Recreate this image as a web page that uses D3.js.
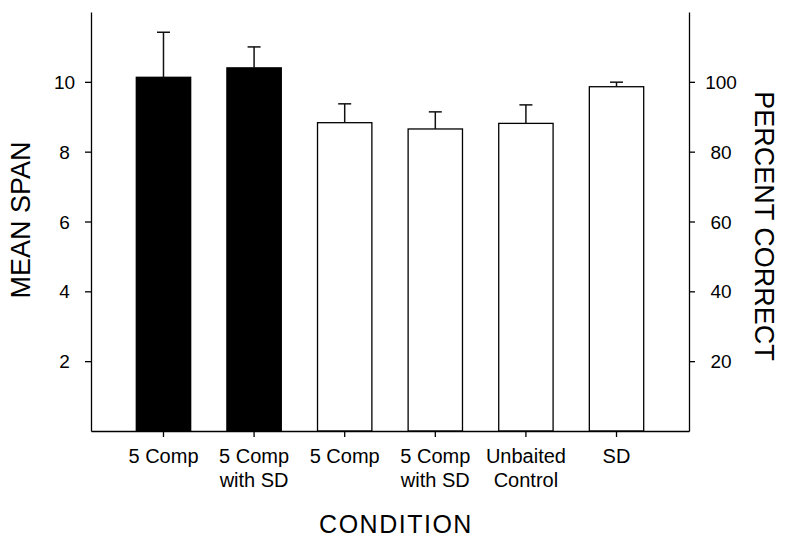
<!DOCTYPE html>
<html>
<head>
<meta charset="utf-8">
<script src="https://cdn.jsdelivr.net/npm/d3@7"></script>
<style>
  html, body { margin: 0; padding: 0; background: #fff; }
  svg { display: block; }
  text { font-family: "Liberation Sans", Arial, sans-serif; fill: #000; }
</style>
</head>
<body>
<svg id="chart" width="785" height="544"></svg>
<script>
// Data
const categories = ["5 Comp", "5 Comp\nwith SD", "5 Comp", "5 Comp\nwith SD", "Unbaited\nControl", "SD"];
const meanSpan   = [10.13, 10.40, 8.83, 8.65, 8.81, 9.86];
const errorTop   = [11.42, 11.00, 9.37, 9.14, 9.34, 9.99];
const filled     = [true, true, false, false, false, false];
const leftTicks  = [2, 4, 6, 8, 10];
const rightTicks = [20, 40, 60, 80, 100];

const svg = d3.select("#chart");
const L = 91, R = 689, T = 12, B = 431;

const x = d3.scaleBand().domain(d3.range(categories.length)).range([L, R])
  .paddingInner(0.4).paddingOuter(0.5);
const y = d3.scaleLinear().domain([0, 12]).range([B, T]);
const y2 = d3.scaleLinear().domain([0, 120]).range([B, T]);

// Bars
svg.append("g").selectAll("rect").data(meanSpan).join("rect")
  .attr("x", (d, i) => x(i))
  .attr("y", d => y(d))
  .attr("width", x.bandwidth())
  .attr("height", d => y(0) - y(d))
  .attr("fill", (d, i) => filled[i] ? "#000" : "#fff")
  .attr("stroke", "#000")
  .attr("stroke-width", 1.3);

// Error bars
const eg = svg.append("g").attr("stroke", "#111").attr("stroke-width", 1.5);
meanSpan.forEach((d, i) => {
  const cx = x(i) + x.bandwidth() / 2;
  eg.append("line").attr("x1", cx).attr("x2", cx).attr("y1", y(d)).attr("y2", y(errorTop[i]));
  eg.append("line").attr("x1", cx - 6.5).attr("x2", cx + 6.5).attr("y1", y(errorTop[i])).attr("y2", y(errorTop[i]));
});

// Left axis
const gl = svg.append("g").attr("transform", `translate(${L},0)`)
  .call(d3.axisLeft(y).tickValues(leftTicks).tickSize(6).tickSizeOuter(0).tickPadding(0));
gl.selectAll("text").remove();
gl.selectAll(".tick").append("text")
  .attr("x", -26.5).attr("dy", "0.35em").attr("text-anchor", "middle")
  .style("font-size", "19px").text(d => d);

// Right axis
const gr = svg.append("g").attr("transform", `translate(${R},0)`)
  .call(d3.axisRight(y2).tickValues(rightTicks).tickSize(6).tickSizeOuter(0));
gr.selectAll("text").remove();
gr.selectAll(".tick").append("text")
  .attr("x", 32).attr("dy", "0.35em").attr("text-anchor", "middle")
  .style("font-size", "19px").text(d => d);

// Bottom axis
const gb = svg.append("g").attr("transform", `translate(0,${B})`)
  .call(d3.axisBottom(x).tickSize(6).tickSizeOuter(0));
gb.selectAll("text").remove();
gb.selectAll(".tick").each(function(d, i) {
  const lines = categories[i].split("\n");
  const t = d3.select(this).append("text").attr("text-anchor", "middle").style("font-size", "20px");
  lines.forEach((ln, k) => {
    t.append("tspan").attr("x", 0).attr("y", 32 + k * 23.5).text(ln);
  });
});

svg.selectAll(".domain").attr("stroke", "#000").attr("stroke-width", 1.3);
svg.selectAll(".tick line").attr("stroke", "#000").attr("stroke-width", 1.3);

// Axis titles
svg.append("text").attr("transform", "translate(30,220) rotate(-90)")
  .attr("text-anchor", "middle").style("font-size", "27px").text("MEAN SPAN");
svg.append("text").attr("transform", "translate(755,226) rotate(90)")
  .attr("text-anchor", "middle").style("font-size", "27px").text("PERCENT CORRECT");
svg.append("text").attr("x", 396).attr("y", 533)
  .attr("text-anchor", "middle").style("font-size", "25px").style("letter-spacing", "1.5px").text("CONDITION");
</script>
</body>
</html>
